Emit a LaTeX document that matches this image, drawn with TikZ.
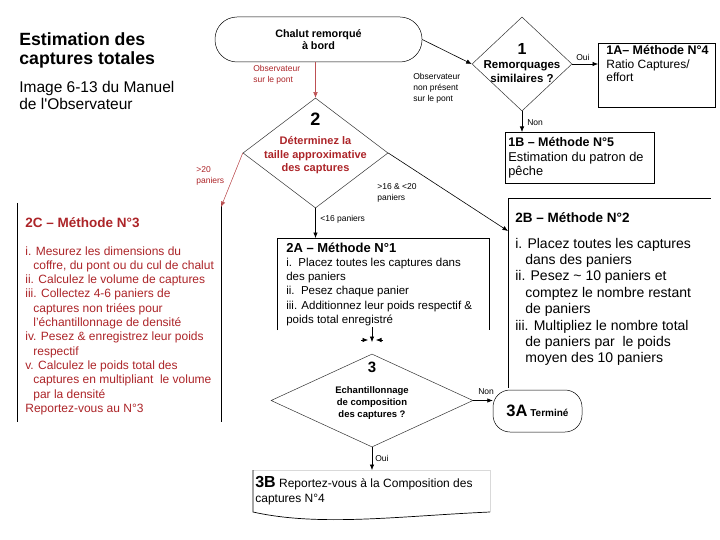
\documentclass[tikz,border=0pt]{standalone}
\usepackage{fontspec}
\setmainfont{Liberation Sans}
\usetikzlibrary{arrows.meta,shapes.geometric,positioning}
\definecolor{obsred}{RGB}{172,36,40}
\newcommand\fsz[2]{\fontsize{#1}{#2}\selectfont}

\begin{document}
\begin{tikzpicture}[x=1pt,y=-1pt,line width=.7pt,
 arr/.style={-{Latex[length=5.5pt,width=4.5pt]},line width=.6pt},
 rarr/.style={arr,draw=obsred!80,fill=obsred!80,line width=.5pt},
 dia/.style={diamond,draw=black!80,line width=.5pt,inner sep=0},
 frame/.style={inner sep=0,outer sep=0,anchor=north west},
 txt/.style={inner sep=0,align=left,anchor=base west},
 ctr/.style={inner sep=0,align=center,anchor=base},
 lab/.style={inner sep=0,align=left,anchor=base west,font=\fsz{8.5}{11}}]
\useasboundingbox (0,0) rectangle (720,540);
\node[txt,font=\bfseries\fsz{17.7}{19}] (title) at (19,65) {Estimation des\\captures totales};
\node[txt,font=\fsz{15.5}{17}] (subtitle) at (19,110) {Image 6-13 du Manuel\\de l\textquotesingle Observateur};
\node[draw,line width=.5pt,rounded corners=22pt,minimum width=207pt,minimum height=45pt,
 align=center,font=\bfseries\fsz{10.8}{12.5}] (start) at (318.5,39.5) {Chalut remorqué\\à bord};
\node[dia,minimum width=100pt,minimum height=94pt] (q1) at (522,64) {};
\node[ctr,font=\bfseries\fsz{16}{16}] (q1n) at (522,55) {1};
\node[ctr,font=\bfseries\fsz{11.5}{14}] (q1t) at (522,83) {Remorquages\\similaires ?};
\node[frame,draw,minimum width=117pt,minimum height=64pt] (m1a) at (598,43) {};
\node[txt,font=\fsz{12}{13.3}] (m1at) at (606,81.6) {\textbf{\fsz{12.5}{13.3}1A-- Méthode N°4}\\Ratio Captures/\\effort};
\node[frame,draw,minimum width=149pt,minimum height=51pt] (m1b) at (505,132) {};
\node[txt,font=\fsz{12.8}{14.3}] (m1bt) at (508,175.6) {\textbf{\fsz{12.5}{14.3}1B -- Méthode N°5}\\Estimation du patron de\\pêche};
\node[dia,minimum width=145pt,minimum height=110pt] (q2) at (315.5,153) {};
\node[ctr,font=\bfseries\fsz{18}{18}] (q2n) at (315.5,126) {2};
\node[ctr,text=obsred,font=\bfseries\fsz{11}{13.5}] (q2t) at (315.5,172) {Déterminez la\\taille approximative\\des captures};
\node[frame,minimum width=204pt,minimum height=219pt] (m2c) at (17,203) {};
\draw (m2c.north west) -- (m2c.south west);
\draw (m2c.north east) -- (m2c.south east);
\node[txt,text=obsred,font=\fsz{12}{14.3}] (m2ct) at (25,412.3) {\textbf{\fsz{13.5}{14.3}2C -- Méthode N°3}\\[13.7pt]
i. Mesurez les dimensions du\\
\hspace*{8pt}coffre, du pont ou du cul de chalut\\
ii. Calculez le volume de captures\\
iii. Collectez 4-6 paniers de\\
\hspace*{8pt}captures non triées pour\\
\hspace*{8pt}l'échantillonnage de densité\\
iv. Pesez \& enregistrez leur poids\\
\hspace*{8pt}respectif\\
v. Calculez le poids total des\\
\hspace*{8pt}captures en multipliant\ \ le volume\\
\hspace*{8pt}par la densité\\
Reportez-vous au N°3};
\node[frame,minimum width=212pt,minimum height=92pt] (m2a) at (277,238) {};
\draw (m2a.south west) -- (m2a.north west) -- (m2a.north east) -- (m2a.south east);
\node[txt,font=\fsz{11.5}{14.3}] (m2at) at (286,323.5) {\textbf{\fsz{13}{14.3}2A -- Méthode N°1}\\
i.\ \ Placez toutes les captures dans\\
des paniers\\
ii.\ \ Pesez chaque panier\\
iii. Additionnez leur poids respectif \&\\
poids total enregistré};
\node[frame,minimum width=203pt,minimum height=190pt] (m2b) at (508,198) {};
\draw (m2b.south west) -- (m2b.north west) -- (m2b.north east);
\node[txt,font=\fsz{14}{16.4}] (m2bt) at (515,362.8) {\textbf{\fsz{13.5}{16.4}2B -- Méthode N°2}\\[9.6pt]
i. Placez toutes les captures\\
\hspace*{10pt}dans des paniers\\
ii. Pesez \textasciitilde{} 10 paniers et\\
\hspace*{10pt}comptez le nombre restant\\
\hspace*{10pt}de paniers\\
iii. Multipliez le nombre total\\
\hspace*{10pt}de paniers par\ \ le poids\\
\hspace*{10pt}moyen des 10 paniers};
\node[dia,minimum width=202pt,minimum height=93pt] (q3) at (372,400.5) {};
\node[ctr,font=\bfseries\fsz{15}{15}] (q3n) at (372,372) {3};
\node[ctr,font=\bfseries\fsz{9.5}{12}] (q3t) at (372,417) {Echantillonnage\\de composition\\des captures ?};
\node[draw,line width=.5pt,rounded corners=17pt,minimum width=89pt,minimum height=42pt,inner sep=0] (t3a) at (537.5,411)
 {\bfseries\fsz{16.5}{16}3A\fsz{10}{10} Terminé};
\node[frame,minimum width=237pt,minimum height=42pt] (m3b) at (253,470) {};
\draw[gray!30,line width=.5pt] (m3b.north west) -- (m3b.north east) -- (m3b.south east);
\draw (m3b.north west) -- (m3b.south west) .. controls (320,527) and (400,516) .. (m3b.south east);
\node[txt,font=\fsz{12}{15}] (m3bt) at (255,502) {\textbf{\fsz{16}{15}3B} Reportez-vous à la Composition des\\captures N°4};
\coordinate (c2in) at (221,207);
\coordinate (b2in) at (508,231);
\coordinate (a3top) at (372,327);
\coordinate (a3tip) at (372,342);
\coordinate (a3l) at (361,340);
\coordinate (a3lt) at (368,340);
\coordinate (a3r) at (383,340);
\coordinate (a3rt) at (376,340);
\draw[arr] (start.east) -- (q1.west);
\node[lab] (lnon) at (413,102) {Observateur\\non présent\\sur le pont};
\draw[arr] (q1.east) -- (q1.east -| m1a.west);
\node[lab,fill=white,inner sep=1pt] (loui1) at (575,61) {Oui};
\draw[arr] (q1.south) -- (q1.south |- m1b.north);
\node[lab] (lnon1) at (527,126) {Non};
\draw[rarr] (start.south -| q2.north) -- (q2.north);
\node[lab,text=obsred] (lsur) at (253,83) {Observateur\\sur le pont};
\draw[rarr] (q2.west) -- (c2in);
\node[lab,text=obsred] (l20) at (196,184) {>20\\paniers};
\draw[arr] (q2.south) -- (q2.south |- m2a.north);
\node[lab] (l16) at (320,222) {<16 paniers};
\draw[arr] (q2.east) -- (b2in);
\node[lab] (l1620) at (377,201) {>16 \& <20\\paniers};
\draw[arr] (a3top) -- (a3tip);
\draw[arr] (a3l) -- (a3lt);
\draw[arr] (a3r) -- (a3rt);
\draw[arr] (q3.east) -- (q3.east -| t3a.west);
\node[lab] (lnon3) at (478,394) {Non};
\draw[arr] (q3.south) -- (q3.south |- m3b.north);
\node[lab] (loui3) at (375,461) {Oui};
\end{tikzpicture}
\end{document}
